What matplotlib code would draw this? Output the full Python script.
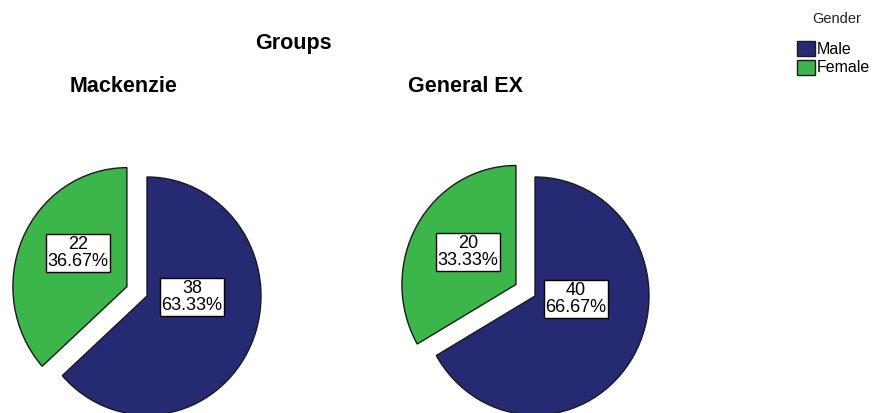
import matplotlib
matplotlib.use("Agg")
import matplotlib.pyplot as plt
from matplotlib.patches import Rectangle

W, H = 877, 413

groups = ["Mackenzie", "General EX"]
genders = ["Male", "Female"]
counts = {"Mackenzie": [38, 22], "General EX": [40, 20]}
colors = ["#262A73", "#3CB54A"]

plt.rcParams["font.family"] = ["Liberation Sans", "DejaVu Sans"]

fig = plt.figure(figsize=(W / 100, H / 100), dpi=100)
ax = fig.add_axes([0, 0, 1, 1])

# the source image is a little stretched vertically, so the pies are ellipses
SY = 1.044


def py(y):
    # pixel row (from the top) -> data y
    return (H - y) / SY


centers = [(147, 296), (535, 296)]
title_x = [124, 465]
label_pos = [[(192, 297), (78, 253)], [(576, 299), (468, 252)]]
radius = 114
explode_px = 22  # pie() takes the explode offset in data units

for g, (cx, cy), tx, lp in zip(groups, centers, title_x, label_pos):
    vals = counts[g]
    total = sum(vals)
    ax.pie(vals, colors=colors, startangle=90, counterclock=False,
           explode=(0, explode_px), center=(cx, py(cy)), radius=radius,
           wedgeprops=dict(edgecolor="#1a1a1a", linewidth=1.0))
    for v, (lx, ly) in zip(vals, lp):
        ax.text(lx, py(ly), f"{v}\n{v / total * 100:.2f}%", ha="center", va="center",
                fontsize=13, linespacing=1.02,
                bbox=dict(boxstyle="square,pad=0.1", fc="white", ec="black", lw=1))
    ax.text(tx, py(86), g, ha="center", va="center", fontsize=15.5, fontweight="bold")

ax.text(293, py(44), "Groups", ha="center", va="center", fontsize=15.5, fontweight="bold")

# legend, drawn by hand to match the square swatches
ax.text(837, py(19), "Gender", ha="center", va="center", fontsize=10.5,
        color="#222222")
for i, (lab, col) in enumerate(zip(genders, colors)):
    top = 41 + i * 19
    ax.add_patch(Rectangle((797, py(top + 15)), 18, 15 / SY, facecolor=col,
                           edgecolor="#1a1a1a", lw=1))
    ax.text(817, py(top + 8), lab, ha="left", va="center", fontsize=11.5)

ax.set_xlim(0, W)
ax.set_ylim(0, H / SY)
ax.set_aspect("auto")
ax.axis("off")

fig.savefig("out.png", dpi=100, facecolor="white")
